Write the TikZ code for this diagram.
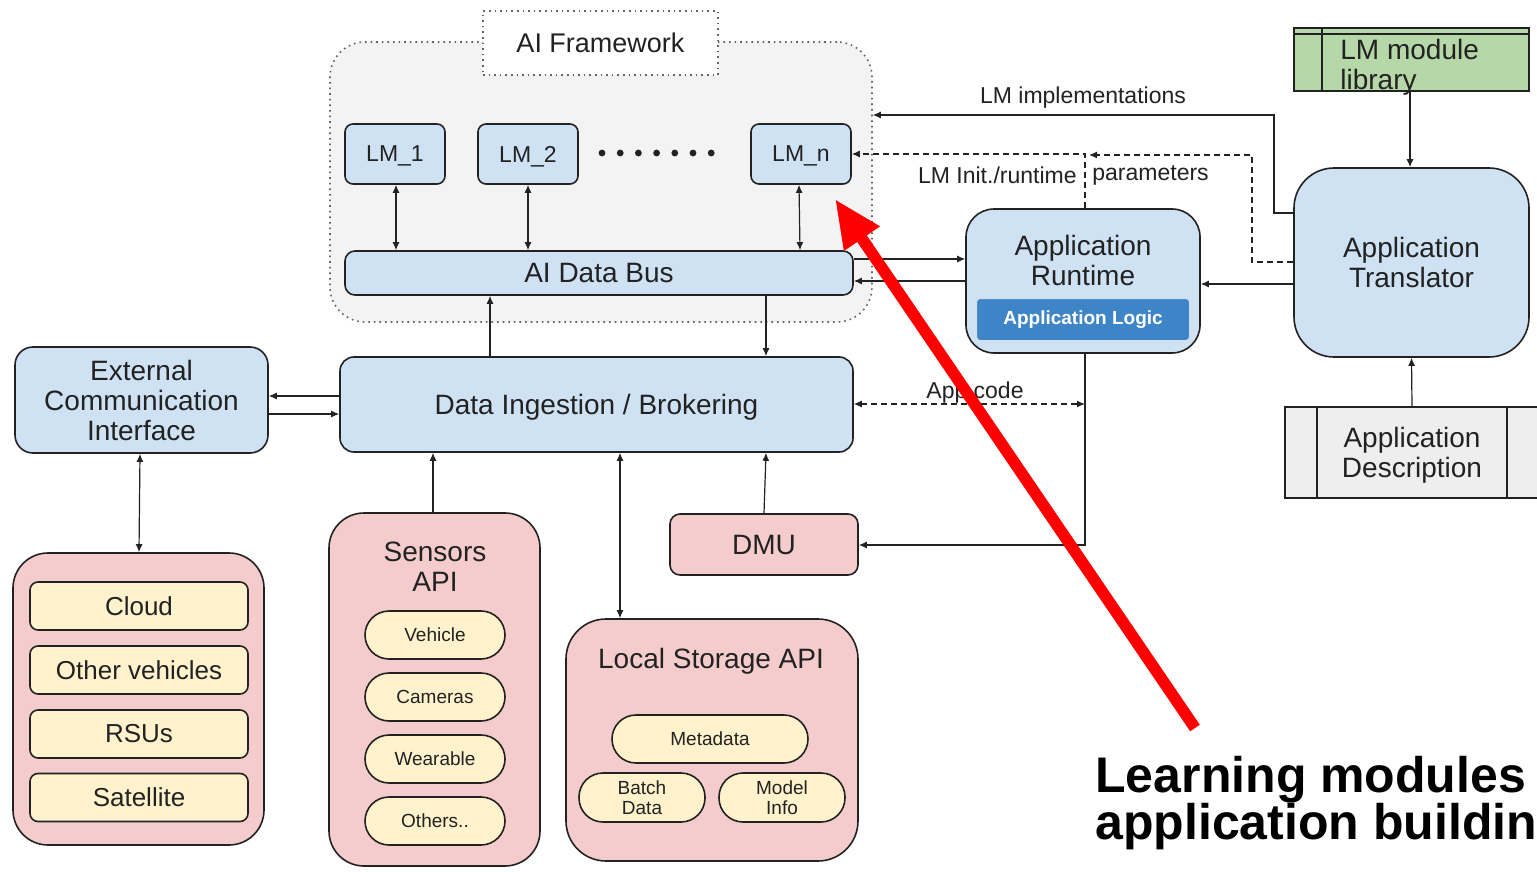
\documentclass[tikz,border=0pt]{standalone}
\usepackage{fontspec}
\setmainfont{Liberation Sans}
\usetikzlibrary{arrows.meta,calc}
\definecolor{bluefill}{HTML}{CFE2F3}
\definecolor{pinkfill}{HTML}{F4CCCC}
\definecolor{yelfill}{HTML}{FFF2CC}
\definecolor{greenfill}{HTML}{B6D7A8}
\definecolor{grayfill}{HTML}{EEEEEE}
\definecolor{fwfill}{HTML}{F3F3F3}
\definecolor{logicblue}{HTML}{3D85C6}
\definecolor{ink}{HTML}{222222}
\definecolor{redarrow}{HTML}{FF0000}
\newcommand\fmain{\fontsize{14}{15}\selectfont}
\newcommand\flm{\fontsize{11.5}{14}\selectfont}
\newcommand\flbl{\fontsize{11.5}{14}\selectfont}
\newcommand\fsmall{\fontsize{9.5}{10}\selectfont}
\begin{document}
\begin{tikzpicture}[x=0.5pt,y=-0.5pt,
  every node/.style={text=ink, inner sep=0pt, align=center},
  bx/.style={draw=ink, line width=0.8pt},
  bluebox/.style={bx, fill=bluefill},
  pinkbox/.style={bx, fill=pinkfill},
  yelbox/.style={bx, fill=yelfill},
  arr/.style={draw=ink, line width=0.6pt, -{Latex[length=4pt,width=3.5pt]}},
  darr/.style={draw=ink, line width=0.6pt, {Latex[length=4pt,width=3.5pt]}-{Latex[length=4pt,width=3.5pt]}},
  dsh/.style={dash pattern=on 3pt off 2pt}
]
\useasboundingbox (0,0) rectangle (1537,872);
\fill[white] (0,0) rectangle (1537,872);

% AI framework
\node[draw=ink!70, dotted, line width=0.8pt, fill=fwfill, rounded corners=17.5pt,
      minimum width=271pt, minimum height=140pt] (fw) at (601,182) {};
\node[draw=ink!70, dotted, line width=0.8pt, fill=white, text depth=0pt,
      minimum width=117.5pt, minimum height=32pt, font=\fontsize{13.5}{15}\selectfont] (fwlab) at (600.5,43) {AI Framework};

\node[bluebox, rounded corners=4pt, minimum width=50pt, minimum height=30pt, text depth=0pt, font=\flm] (lm1) at (395,154) {LM\_1};
\node[bluebox, rounded corners=4pt, minimum width=50pt, minimum height=30pt, text depth=0pt, font=\flm] (lm2) at (528,154) {LM\_2};
\node[bluebox, rounded corners=4pt, minimum width=50pt, minimum height=30pt, text depth=0pt, font=\flm] (lmn) at (801,154) {LM\_n};
\foreach \i in {0,...,6} { \fill[ink] (602+\i*18.2,153) circle (1.7pt); }

\node[bluebox, rounded corners=5pt, minimum width=254pt, minimum height=22pt, text depth=0pt, font=\fmain] (bus) at (599,273) {AI Data Bus};

% Data ingestion
\node[bluebox, rounded corners=7pt, minimum width=256.5pt, minimum height=47.5pt, text depth=0pt, font=\fmain] (ing) at (596.5,404.5) {Data Ingestion / Brokering};
\node[bluebox, rounded corners=9pt, minimum width=126.5pt, minimum height=53pt, font=\fmain] (eci) at (141.5,400) {External\\Communication\\Interface};

% external group
\node[pinkbox, rounded corners=17.5pt, minimum width=125.5pt, minimum height=146pt] (ext) at (138.5,699) {};
\node[yelbox, rounded corners=4pt, minimum width=109pt, minimum height=24pt, font=\fontsize{13}{15}\selectfont] (cloud) at (139,606) {Cloud};
\node[yelbox, rounded corners=4pt, minimum width=109pt, minimum height=24pt, font=\fontsize{13}{15}\selectfont] (othv) at (139,670) {Other vehicles};
\node[yelbox, rounded corners=4pt, minimum width=109pt, minimum height=24pt, font=\fontsize{13}{15}\selectfont] (rsu) at (139,734) {RSUs};
\node[yelbox, rounded corners=4pt, minimum width=109pt, minimum height=24pt, font=\fontsize{13}{15}\selectfont] (sat) at (139,797.5) {Satellite};

% sensors
\node[pinkbox, rounded corners=17.5pt, minimum width=105.5pt, minimum height=176.5pt] (sens) at (434.5,689.5) {};
\node[font=\fmain] (sensT) at (435,567) {Sensors\\API};
\node[yelbox, rounded corners=12pt, minimum width=70pt, minimum height=24pt, font=\fsmall] (veh) at (435,635) {Vehicle};
\node[yelbox, rounded corners=12pt, minimum width=70pt, minimum height=24pt, font=\fsmall] (cam) at (435,697) {Cameras};
\node[yelbox, rounded corners=12pt, minimum width=70pt, minimum height=24pt, font=\fsmall] (wear) at (435,759) {Wearable};
\node[yelbox, rounded corners=12pt, minimum width=70pt, minimum height=24pt, font=\fsmall] (oth) at (435,821) {Others..};

% local storage
\node[pinkbox, rounded corners=20pt, minimum width=146pt, minimum height=121pt] (lsa) at (712,740) {};
\node[font=\fmain] (lsaT) at (711,661) {Local Storage API};
\node[yelbox, rounded corners=12pt, minimum width=98pt, minimum height=24pt, font=\fsmall] (meta) at (710,739) {Metadata};
\node[yelbox, rounded corners=12pt, minimum width=63pt, minimum height=24.5pt, font=\fsmall] (batch) at (642,797.5) {Batch\\Data};
\node[yelbox, rounded corners=12pt, minimum width=63pt, minimum height=24.5pt, font=\fsmall] (model) at (782,797.5) {Model\\Info};

\node[pinkbox, rounded corners=5pt, minimum width=94pt, minimum height=30.5pt, text depth=0pt, font=\fmain] (dmu) at (764,544.5) {DMU};

% runtime
\node[bluebox, rounded corners=14pt, minimum width=117pt, minimum height=72pt] (rt) at (1083,281) {};
\node[font=\fmain] (rtT) at (1083,260) {Application\\Runtime};
\node[fill=logicblue, draw=white!75!logicblue, line width=1pt, rounded corners=2pt, minimum width=107pt, minimum height=21.5pt,
      text=white, font=\fsmall\bfseries] (logic) at (1083,319.5) {Application Logic};

% translator
\node[bluebox, rounded corners=20pt, minimum width=117.5pt, minimum height=94.5pt, font=\fmain] (tr) at (1411.5,262.5) {Application\\Translator};

% library
\node[bx, fill=greenfill, minimum width=117.5pt, minimum height=31.5pt] (lib) at (1411.5,59.5) {};
\draw[ink, line width=0.8pt] ($(lib.north west)+(0,7)$) -- ($(lib.north east)+(0,7)$);
\draw[ink, line width=0.8pt] ($(lib.north west)+(29,0)$) -- ($(lib.south west)+(29,0)$);
\node[font=\fmain, anchor=west, align=left] (libT) at (1340,67) {LM module\\library};

% description
\node[bx, fill=grayfill, minimum width=127pt, minimum height=45.5pt] (desc) at (1412,452.5) {};
\draw[ink, line width=0.8pt] ($(desc.north west)+(33,0)$) -- ($(desc.south west)+(33,0)$);
\draw[ink, line width=0.8pt] ($(desc.north east)+(-33,0)$) -- ($(desc.south east)+(-33,0)$);
\node[font=\fmain] (descT) at (1412,455) {Application\\Description};

% connectors
\draw[darr] (396,0 |- lm1.south) -- (396,0 |- bus.north);
\draw[darr] (528,0 |- lm2.south) -- (528,0 |- bus.north);
\draw[darr] (799,0 |- lmn.south) -- (800,0 |- bus.north);
\draw[arr] (490,0 |- ing.north) -- (490,0 |- bus.south);
\draw[arr] (766,0 |- bus.south) -- (766,0 |- ing.north);
\draw[arr] (ing.west |- 0,396) -- (eci.east |- 0,396);
\draw[arr] (eci.east |- 0,414) -- (ing.west |- 0,414);
\draw[darr] (140,0 |- eci.south) -- (139,0 |- ext.north);
\draw[arr] (433,0 |- sens.north) -- (433,0 |- ing.south);
\draw[darr] (620,0 |- ing.south) -- (620,0 |- lsa.north);
\draw[arr] (dmu.north) -- (766,0 |- ing.south);
\draw[arr] (bus.east |- 0,259) -- (rt.west |- 0,259);
\draw[arr] (rt.west |- 0,281) -- (bus.east |- 0,281);
\draw[arr] (tr.west |- 0,284) -- (rt.east |- 0,284);
\draw[arr] (1410,0 |- lib.south) -- (1410,0 |- tr.north);
\draw[arr] (desc.north) -- (tr.south);
\draw[arr] (tr.west |- 0,213) -| (1274,115) -- (fw.east |- 0,115);
\draw[arr, dsh] (tr.west |- 0,262) -| (1252,155) -- (1089,155);
\draw[arr, dsh] (1085,0 |- rt.north) |- (lmn.east |- 0,154);
\coordinate (acj) at (1085,404);
\draw[darr, dsh] (ing.east |- acj) -- (acj);
\draw[arr] (1085,0 |- rt.south) |- (dmu.east |- 0,545);

% labels
\node[font=\flbl] (lblimpl) at (1083,98) {LM implementations};
\node[font=\flbl, anchor=east] (lblinit) at (1077,175) {LM Init./runtime};
\node[font=\flbl, anchor=west] (lblpar) at (1092,175) {parameters};
\node[font=\flbl] (lblapp) at (975,393) {App code};

% red arrow
\coordinate (redtail) at (1195,728);
\coordinate (redtip) at (835,199);
\draw[redarrow, line width=5.8pt, -{Triangle[length=24pt,width=20pt]}] (redtail) -- (redtip);

% note
\node[font=\fontsize{25}{23.5}\selectfont\bfseries, text=black, anchor=north west, align=left] (note) at (1095,756) {Learning modules\\application buildin};
\end{tikzpicture}
\end{document}
